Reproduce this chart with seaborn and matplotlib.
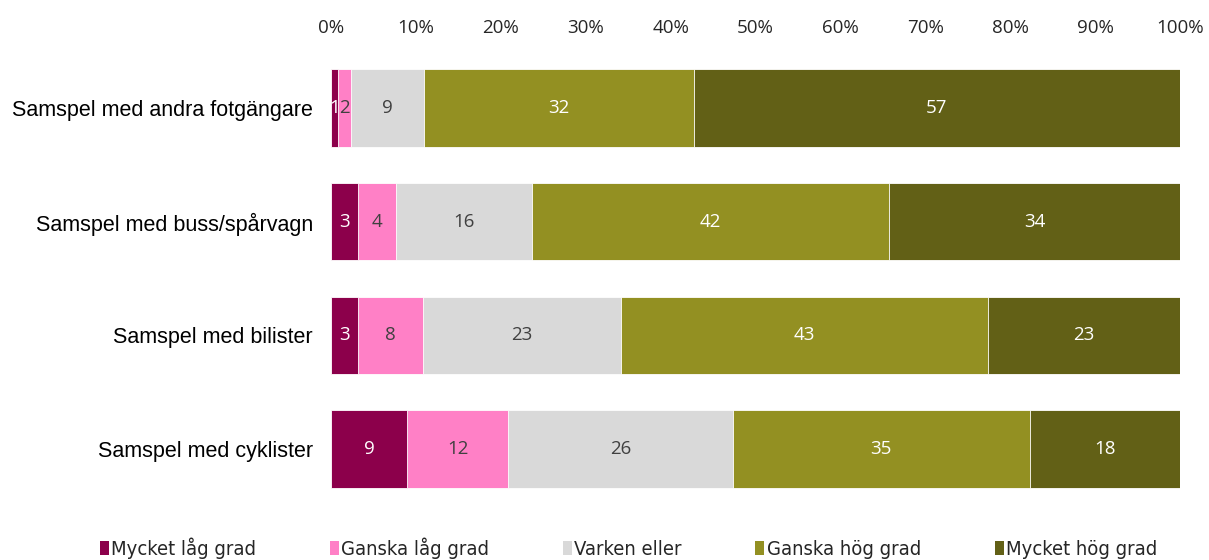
import numpy as np
import pandas as pd
import matplotlib
matplotlib.use("Agg")
import matplotlib.pyplot as plt
import seaborn as sns
from matplotlib.patches import Patch
from matplotlib import font_manager

# Data (shares in %, labels are the rounded values)
categories = ["Samspel med andra fotgängare", "Samspel med buss/spårvagn",
              "Samspel med bilister", "Samspel med cyklister"]
levels = ["Mycket låg grad", "Ganska låg grad", "Varken eller",
          "Ganska hög grad", "Mycket hög grad"]
mycket_lag = [0.8, 3.2, 3.2, 9.0]
ganska_lag = [1.5, 4.4, 7.6, 11.9]
varken = [8.6, 16.1, 23.3, 26.4]
ganska_hog = [31.8, 42.0, 43.3, 35.0]
mycket_hog = [57.3, 34.3, 22.6, 17.7]
labels = [[1, 3, 3, 9], [2, 4, 8, 12], [9, 16, 23, 26],
          [32, 42, 43, 35], [57, 34, 23, 18]]

colors = ["#8c004b", "#ff80c6", "#d9d9d9", "#939022", "#626016"]
text_colors = ["white", "#404040", "#404040", "white", "white"]

series = [mycket_lag, ganska_lag, varken, ganska_hog, mycket_hog]
shares = np.array(series)
shares = shares / shares.sum(axis=0) * 100
cum = shares.cumsum(axis=0)

sns.set_theme(style="white")
plt.rcParams["font.family"] = ["Liberation Sans", "DejaVu Sans"]

# legend font in the reference is a narrow sans; use a regular one if present
narrow = [f.fname for f in font_manager.fontManager.ttflist
          if f.fname.endswith("LiberationSansNarrow-Regular.ttf")]
narrow += [f.fname for f in font_manager.fontManager.ttflist
           if f.fname.endswith("DejaVuSansCondensed.ttf")]

fig = plt.figure(figsize=(12.09, 5.6), dpi=100)
ax = fig.add_axes([0.2738, 0.0964, 0.7022, 0.8126])

# draw cumulative bars from the largest total down so they stack
for i in range(len(levels) - 1, -1, -1):
    df = pd.DataFrame({"category": categories, "value": cum[i]})
    sns.barplot(data=df, x="value", y="category", order=categories,
                color=colors[i], width=0.68, edgecolor="white",
                linewidth=0.6, saturation=1, ax=ax)

for i in range(len(levels)):
    for j in range(len(categories)):
        xc = cum[i][j] - shares[i][j] / 2
        ax.text(xc, j, str(labels[i][j]), ha="center", va="center",
                fontsize=13.5, color=text_colors[i],
                family=["Open Sans", "DejaVu Sans"])

ax.set_xlim(0, 100)
ax.set_ylim(3.5, -0.5)
ax.xaxis.tick_top()
ax.set_xticks(range(0, 101, 10))
ax.set_xticklabels([f"{t}%" for t in range(0, 101, 10)],
                   family=["Open Sans", "DejaVu Sans"], fontsize=13.5)
ax.tick_params(axis="x", length=0, pad=10)
ax.tick_params(axis="y", length=0, pad=13, labelsize=15.5, labelcolor="black")
ax.set_xlabel("")
ax.set_ylabel("")
for s in ax.spines.values():
    s.set_visible(False)

if narrow:
    prop = font_manager.FontProperties(fname=narrow[0], size=14.5)
else:
    prop = font_manager.FontProperties(family="Liberation Sans", size=13)
handles = [Patch(facecolor=c, edgecolor="none") for c in colors]
fig.legend(handles, levels, loc="lower center", bbox_to_anchor=(0.52, -0.03),
           ncol=5, frameon=False, handlelength=0.45, handleheight=0.7,
           handletextpad=0.12, columnspacing=3.65, prop=prop)

fig.savefig("out.png", dpi=100)
